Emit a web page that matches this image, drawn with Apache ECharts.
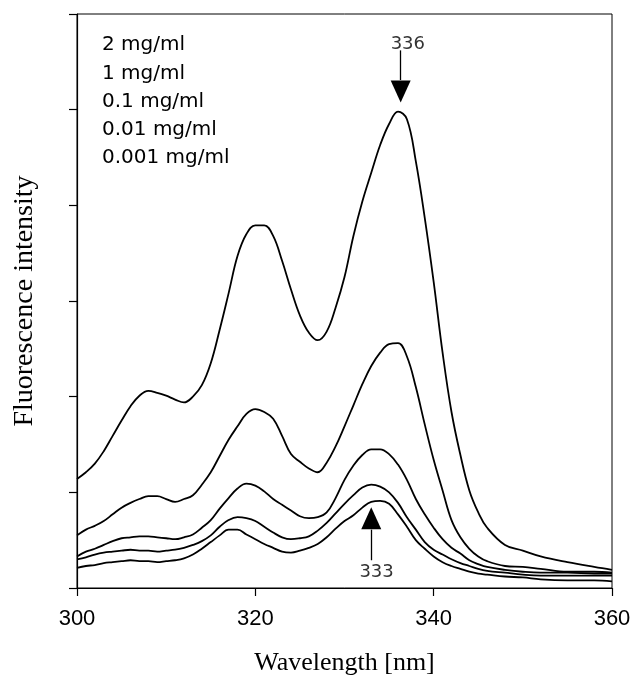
<!DOCTYPE html>
<html>
<head>
<meta charset="utf-8">
<script src="https://cdn.jsdelivr.net/npm/echarts@6/dist/echarts.min.js"></script>
<style>
html,body{margin:0;padding:0;background:#fff;overflow:hidden;width:631px;height:675px;}
#chart{width:631px;height:675px;display:block;}
</style>
</head>
<body>
<div id="chart"></div>
<script>
// Wavelength grid (nm)
const wavelength = [300,301,302,303,304,305,306,307,308,309,310,311,312,313,314,315,316,317,318,319,320,321,322,323,324,325,326,327,328,329,330,331,332,333,334,335,336,337,338,339,340,341,342,343,344,345,346,348,350,352,355,358,360];
// Fluorescence intensity (arbitrary units) for each concentration
const conc2 = [114,121,130,143,159,175,190,201,206,204,201,197,194,200,212,235,270,308,347,370,379,379,368,342,312,285,267,259,268,293,325,368,404,434,463,485,498,490,446,387,320,246,184,139,102,79,63,45,39,33,27,22,19];
const conc1 = [55,61,65,70,77,84,89,93,96,96,93,90,93,97,108,121,138,155,169,182,187,184,177,159,140,132,125,121,131,148,169,191,213,232,246,255,256,242,210,171,134,102,71,53,41,33,28,23,22,20,17,17,16];
const conc01 = [33,38,41,45,49,52,53,54,54,53,52,51,53,56,63,71,83,94,104,109,107,101,93,87,81,75,73,74,79,94,113,128,139,145,145,140,129,113,93,77,63,51,42,36,29,25,22,19,17,16,16,15,15];
const conc001 = [30,32,35,37,38,39,40,39,39,38,39,40,42,45,49,55,64,71,74,73,70,64,58,53,51,52,54,60,68,78,88,97,105,108,106,100,89,74,61,48,40,35,30,26,23,20,18,16,14,13,13,13,13];
const conc0001 = [21,23,24,26,27,28,29,28,28,27,28,29,31,35,41,48,55,61,61,56,51,46,42,38,37,39,42,46,53,62,70,76,84,90,91,88,77,64,50,41,33,27,23,20,17,15,14,12,11,9,8,8,7];
const seriesNames = ['2 mg/ml','1 mg/ml','0.1 mg/ml','0.01 mg/ml','0.001 mg/ml'];
const seriesValues = [conc2, conc1, conc01, conc001, conc0001];
const xTicks = [300, 320, 340, 360];
// Peak annotations (wavelength, arrow head / stem positions in intensity units)
const peakTop = {label:'336', x:336.3, labelX:337.1, labelY:568, stem:[562,531], head:519};
const peakBottom = {label:'333', x:333.0, labelX:333.6, labelY:16, stem:[61,29], head:73};

const chart = echarts.init(document.getElementById('chart'), null, {renderer:'canvas', width:631, height:675});

const series = seriesValues.map((vals, i) => ({
  name: seriesNames[i],
  type: 'line',
  data: wavelength.map((w, j) => [w, vals[j]]),
  smooth: 0.4,
  symbol: 'none',
  lineStyle: {color:'#000', width:1.8},
  itemStyle: {color:'#000'},
  animation: false
}));

function arrow(p, up) {
  return {
    markLine: {
      silent: true, symbol: ['none','none'], animation:false,
      lineStyle: {color:'#000', width:1.3, type:'solid'},
      label: {show:false},
      data: [[{coord:[p.x, p.stem[0]]},{coord:[p.x, p.stem[1]]}]]
    },
    markPoint: {
      silent: true, animation:false,
      data: [
        {coord:[p.x, p.head], symbol:'triangle', symbolRotate: up ? 0 : 180, symbolSize:[20,22],
         itemStyle:{color:'#000'}, label:{show:false}},
        {coord:[p.labelX, p.labelY], symbol:'circle', symbolSize:0,
         label:{show:true, position:'inside', formatter:p.label, color:'#333',
                fontFamily:'"DejaVu Sans", Verdana, sans-serif', fontSize:18}}
      ]
    }
  };
}
Object.assign(series[0], arrow(peakTop, false));
Object.assign(series[4], arrow(peakBottom, true));

const legendTexts = seriesNames.map((n, i) => ({
  type:'text', x:102, y:45 + i*28.3,
  style:{text:n, fill:'#000', fontSize:20, fontFamily:'"DejaVu Sans", Verdana, sans-serif', verticalAlign:'middle'}
}));

chart.setOption({
  animation:false,
  backgroundColor:'#fff',
  grid:{left:77, right:19, top:14, bottom:87, show:true, borderColor:'#000', borderWidth:1,
        containLabel:false, outerBoundsMode:'none'},
  xAxis:{
    type:'value', min:300, max:360, interval:20,
    name:'Wavelength [nm]', nameLocation:'middle', nameGap:62,
    nameTextStyle:{fontFamily:'"Liberation Serif", "Times New Roman", serif', fontSize:26, color:'#000'},
    axisLine:{show:true, lineStyle:{color:'#000', width:1.2}},
    axisTick:{show:true, length:8, inside:false, lineStyle:{color:'#000', width:1.2}},
    axisLabel:{show:true, margin:20, fontSize:22, color:'#000', fontFamily:'"Liberation Sans", Arial, sans-serif',
      formatter: v => xTicks.includes(v) ? String(v) : ''},
    splitLine:{show:false}
  },
  yAxis:{
    type:'value', min:0, max:600, interval:100,
    name:'Fluorescence intensity', nameLocation:'middle', nameGap:38,
    nameTextStyle:{fontFamily:'"Liberation Serif", "Times New Roman", serif', fontSize:28, color:'#000'},
    axisLine:{show:true, lineStyle:{color:'#000', width:1.2}},
    axisTick:{show:true, length:8, inside:false, lineStyle:{color:'#000', width:1.2}},
    axisLabel:{show:false},
    splitLine:{show:false}
  },
  graphic: legendTexts,
  series: series
});
</script>
</body>
</html>
